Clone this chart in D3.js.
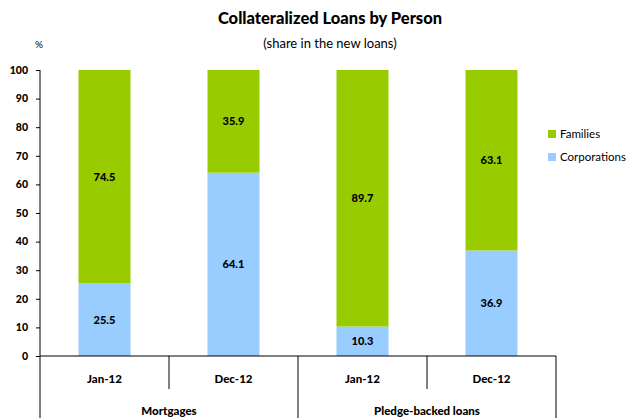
<!DOCTYPE html>
<html>
<head>
<meta charset="utf-8">
<script src="https://cdn.jsdelivr.net/npm/d3@7"></script>
<style>
  body { margin: 0; background: #fff; }
  svg text { font-family: Lato, "Open Sans", sans-serif; fill: #000; }
</style>
</head>
<body>
<svg id="chart" width="630" height="418"></svg>
<script>
// DATA
const periods = ["Jan-12", "Dec-12", "Jan-12", "Dec-12"];
const groups = ["Mortgages", "Pledge-backed loans"];
const corporations = [25.5, 64.1, 10.3, 36.9];
const families = [74.5, 35.9, 89.7, 63.1];
const yTicks = [0, 10, 20, 30, 40, 50, 60, 70, 80, 90, 100];

const colors = { families: "#99cc00", corporations: "#99ccff" };

const svg = d3.select("#chart");
const plotLeft = 40, plotRight = 556, plotTop = 70, plotBottom = 356;

const x = d3.scaleBand().domain(d3.range(periods.length)).range([plotLeft, plotRight]).padding(0);
const y = d3.scaleLinear().domain([0, 100]).range([plotBottom, plotTop]);
const barW = 52;

// TITLE
svg.append("text").attr("x", 330).attr("y", 24).attr("text-anchor", "middle")
  .style("font-size", "16.5px").style("font-weight", "900").text("Collateralized Loans by Person");
svg.append("text").attr("x", 330).attr("y", 48).attr("text-anchor", "middle")
  .style("font-size", "13px").text("(share in the new loans)");
svg.append("text").attr("x", 39).attr("y", 48).attr("text-anchor", "middle")
  .style("font-size", "10px").text("%");

// BARS
const rows = periods.map((p, i) => ({ i, corp: corporations[i], fam: families[i] }));
const bars = svg.append("g");
rows.forEach(d => {
  const cx = x(d.i) + x.bandwidth() / 2;
  bars.append("rect").attr("x", cx - barW / 2).attr("width", barW)
    .attr("y", y(d.corp)).attr("height", plotBottom - y(d.corp)).attr("fill", colors.corporations);
  bars.append("rect").attr("x", cx - barW / 2).attr("width", barW)
    .attr("y", y(d.corp + d.fam)).attr("height", y(d.corp) - y(d.corp + d.fam)).attr("fill", colors.families);
  bars.append("text").attr("x", cx).attr("y", y(d.corp / 2) + 4).attr("text-anchor", "middle")
    .style("font-size", "11px").style("font-weight", "900").text(d.corp.toFixed(1));
  bars.append("text").attr("x", cx).attr("y", y(d.corp + d.fam / 2) + 4).attr("text-anchor", "middle")
    .style("font-size", "11px").style("font-weight", "900").text(d.fam.toFixed(1));
});

// Y AXIS
const yAxis = svg.append("g").attr("transform", `translate(${plotLeft},0)`)
  .call(d3.axisLeft(y).tickValues(yTicks).tickSize(4).tickPadding(8));
yAxis.select(".domain").remove();
yAxis.selectAll("text").style("font-size", "10.5px").style("font-weight", "900")
  .style("font-family", "Lato, sans-serif");
svg.append("line").attr("x1", plotLeft).attr("x2", plotLeft).attr("y1", plotTop).attr("y2", 418).attr("stroke", "#000");

// X AXIS
svg.append("line").attr("x1", plotLeft).attr("x2", plotRight).attr("y1", plotBottom).attr("y2", plotBottom).attr("stroke", "#000");
periods.forEach((p, i) => {
  const x1 = x(i) + x.bandwidth();
  const full = (i % 2 === 1);
  svg.append("line").attr("x1", x1).attr("x2", x1).attr("y1", plotBottom)
    .attr("y2", full ? 418 : 389).attr("stroke", "#000");
  svg.append("text").attr("x", x(i) + x.bandwidth() / 2).attr("y", 383).attr("text-anchor", "middle")
    .style("font-size", "11.5px").style("font-weight", "900").text(p);
});
groups.forEach((g, k) => {
  svg.append("text").attr("x", x(k * 2) + x.bandwidth()).attr("y", 415).attr("text-anchor", "middle")
    .style("font-size", "11.5px").style("font-weight", "900").text(g);
});

// LEGEND
const legendItems = [["Families", colors.families], ["Corporations", colors.corporations]];
legendItems.forEach(([label, c], k) => {
  const ly = 130 + k * 23;
  svg.append("rect").attr("x", 548).attr("y", ly).attr("width", 8).attr("height", 8).attr("fill", c);
  svg.append("text").attr("x", 560).attr("y", ly + 8).style("font-size", "11.5px").text(label);
});
</script>
</body>
</html>
